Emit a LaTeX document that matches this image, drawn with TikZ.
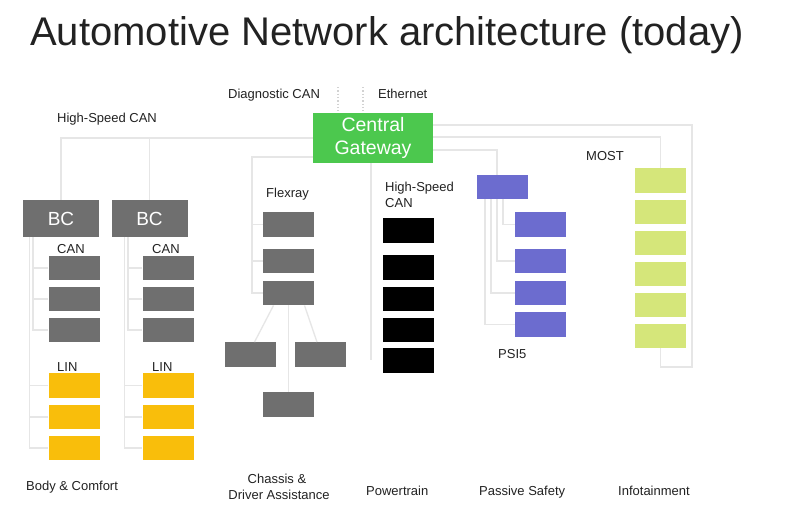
\documentclass[tikz,border=0pt]{standalone}
\usepackage{fontspec}
\setmainfont{Liberation Sans}
\usetikzlibrary{calc}
\definecolor{boxgray}{HTML}{6F6F6F}
\definecolor{linyel}{HTML}{F9BE0B}
\definecolor{psipur}{HTML}{6C6CCF}
\definecolor{mostgr}{HTML}{D5E67A}
\definecolor{gwgreen}{HTML}{4CC84E}
\definecolor{busline}{HTML}{E6E6E6}
\definecolor{txt}{HTML}{222222}
\tikzset{
  ecu/.style={draw=none, inner sep=0pt, minimum width=51pt, minimum height=24.5pt},
  grayecu/.style={ecu, fill=boxgray},
  linecu/.style={ecu, fill=linyel},
  ptecu/.style={ecu, fill=black},
  psiecu/.style={ecu, fill=psipur},
  mostecu/.style={ecu, fill=mostgr},
  bcbox/.style={draw=none, fill=boxgray, inner sep=0pt, minimum width=76pt, minimum height=37pt,
    text=white, font=\fontsize{19}{22}\selectfont},
  lbl/.style={inner sep=0pt, anchor=base west, text=txt, font=\fontsize{13}{15.5}\selectfont},
  lblc/.style={lbl, anchor=base},
  bus/.style={draw=busline, line width=1.3pt},
  diag/.style={draw=gray!35, line width=1.3pt, dotted}
}
\begin{document}
\begin{tikzpicture}[x=1pt,y=-1pt]
\useasboundingbox[fill=white] (0,0) rectangle (792,520);

% title
\node[inner sep=0pt, anchor=base west, text=txt, font=\fontsize{40}{45}\selectfont] (title) at (30,45) {Automotive Network architecture (today)};

% gateway
\node[draw=none, fill=gwgreen, inner sep=0pt, minimum width=120pt, minimum height=50pt,
  text=white, align=center, font=\fontsize{19.5}{23.5}\selectfont] (gw) at (373,138) {Central\\Gateway};

% top labels
\node[lbl] (ldiag) at (228,98.5) {Diagnostic CAN};
\node[lbl] (leth) at (378,98.5) {Ethernet};
\coordinate (dtop1) at (338,87);
\coordinate (dtop2) at (363,87);
\draw[diag] (dtop1) -- (dtop1 |- gw.north);
\draw[diag] (dtop2) -- (dtop2 |- gw.north);

% ---------------- Body & Comfort
\node[lbl] (lhscan) at (57,122.5) {High-Speed CAN};
\node[bcbox] (bc1) at (61,218.5) {BC};
\node[bcbox] (bc2) at (149.5,218.5) {BC};
\node[lbl] (lcan1) at (57,253) {CAN};
\node[lbl] (lcan2) at (152,253) {CAN};
\node[lbl] (llin1) at (57,371.5) {LIN};
\node[lbl] (llin2) at (152,371.5) {LIN};
\foreach \i/\y in {1/268,2/299,3/330} {
  \node[grayecu] (ca\i) at (74,\y) {};
  \node[grayecu] (cb\i) at (168,\y) {};
}
\foreach \i/\y in {1/385.5,2/417,3/448} {
  \node[linecu] (la\i) at (74,\y) {};
  \node[linecu] (lb\i) at (168,\y) {};
}
\coordinate (hs2) at (149.5,138);
\draw[bus] (gw.west) -| (bc1.north);
\draw[bus] (hs2) -- (bc2.north);
% buses column 1
\coordinate (canbusa) at (33,237);
\coordinate (linbusa) at (29.5,237);
\draw[bus] (canbusa) |- (ca3.west);
\draw[bus] (ca1.west) -- (ca1.west -| canbusa);
\draw[bus] (ca2.west) -- (ca2.west -| canbusa);
\draw[bus] (linbusa) |- (la3.west);
\draw[bus] (la1.west) -- (la1.west -| linbusa);
\draw[bus] (la2.west) -- (la2.west -| linbusa);
% buses column 2
\coordinate (canbusb) at (128,237);
\coordinate (linbusb) at (124.5,237);
\draw[bus] (canbusb) |- (cb3.west);
\draw[bus] (cb1.west) -- (cb1.west -| canbusb);
\draw[bus] (cb2.west) -- (cb2.west -| canbusb);
\draw[bus] (linbusb) |- (lb3.west);
\draw[bus] (lb1.west) -- (lb1.west -| linbusb);
\draw[bus] (lb2.west) -- (lb2.west -| linbusb);
\node[lbl] (lbody) at (26,490.5) {Body \& Comfort};

% ---------------- Chassis
\node[lbl] (lflex) at (266,197.5) {Flexray};
\node[grayecu] (f1) at (288.5,224.5) {};
\node[grayecu] (f2) at (288.5,261) {};
\node[grayecu] (f3) at (288.5,293) {};
\node[grayecu] (f4) at (250.5,354.5) {};
\node[grayecu] (f5) at (320,354.5) {};
\node[grayecu] (f6) at (288.5,404.5) {};
\coordinate (gwf) at (313,157);
\coordinate (fbus) at (252,157);
\draw[bus] (gwf) -- (fbus) |- (f3.west);
\draw[bus] (f1.west) -- (f1.west -| fbus);
\draw[bus] (f2.west) -- (f2.west -| fbus);
\draw[bus] ($(f3.south)+(-15,0)$) -- ($(f4.north)+(4,0)$);
\draw[bus] ($(f3.south)+(16,0)$) -- ($(f5.north)+(-3,0)$);
\draw[bus] (f3.south) -- (f6.north);
\node[lblc] (lch1) at (277,483.5) {Chassis \&};
\node[lblc] (lch2) at (279,499.5) {Driver Assistance};

% ---------------- Powertrain
\node[lbl] (lpt1) at (385,191.5) {High-Speed};
\node[lbl] (lpt2) at (385,207) {CAN};
\foreach \i/\y in {1/230.5,2/267.5,3/299,4/330,5/360.5} {
  \node[ptecu] (pt\i) at (408,\y) {};
}
\coordinate (ptbus) at (371,163);
\coordinate (ptend) at (371,360);
\draw[bus] (ptbus) -- (ptend);
\node[lbl] (lpower) at (366,495.5) {Powertrain};

% ---------------- Passive safety
\node[psiecu] (p0) at (502.5,187) {};
\foreach \i/\y in {1/224.5,2/261,3/293,4/324.5} {
  \node[psiecu] (p\i) at (540.5,\y) {};
}
\coordinate (gwp) at (433,150);
\draw[bus] (gwp) -| ($(p0.north)+(-5.5,0)$);
\draw[bus] ($(p0.south)+(0.5,0)$) |- (p1.west);
\draw[bus] ($(p0.south)+(-5.5,0)$) |- (p2.west);
\draw[bus] ($(p0.south)+(-11.5,0)$) |- (p3.west);
\draw[bus] ($(p0.south)+(-17.5,0)$) |- (p4.west);
\node[lbl] (lpsi) at (498,358) {PSI5};
\node[lbl] (lpassive) at (479,495.5) {Passive Safety};

% ---------------- Infotainment
\node[lbl] (lmost) at (586,160.5) {MOST};
\foreach \i/\y in {1/180.5,2/212,3/243,4/274,5/305,6/336} {
  \node[mostecu] (m\i) at (660.5,\y) {};
}
\coordinate (gwm1) at (433,137);
\coordinate (gwm2) at (433,125);
\coordinate (ring) at (692,367);
\draw[bus] (gwm1) -| (m1.north);
\draw[bus] (gwm2) -| (ring) -| (m6.south);
\node[lbl] (linfo) at (618,495.5) {Infotainment};
\end{tikzpicture}
\end{document}
